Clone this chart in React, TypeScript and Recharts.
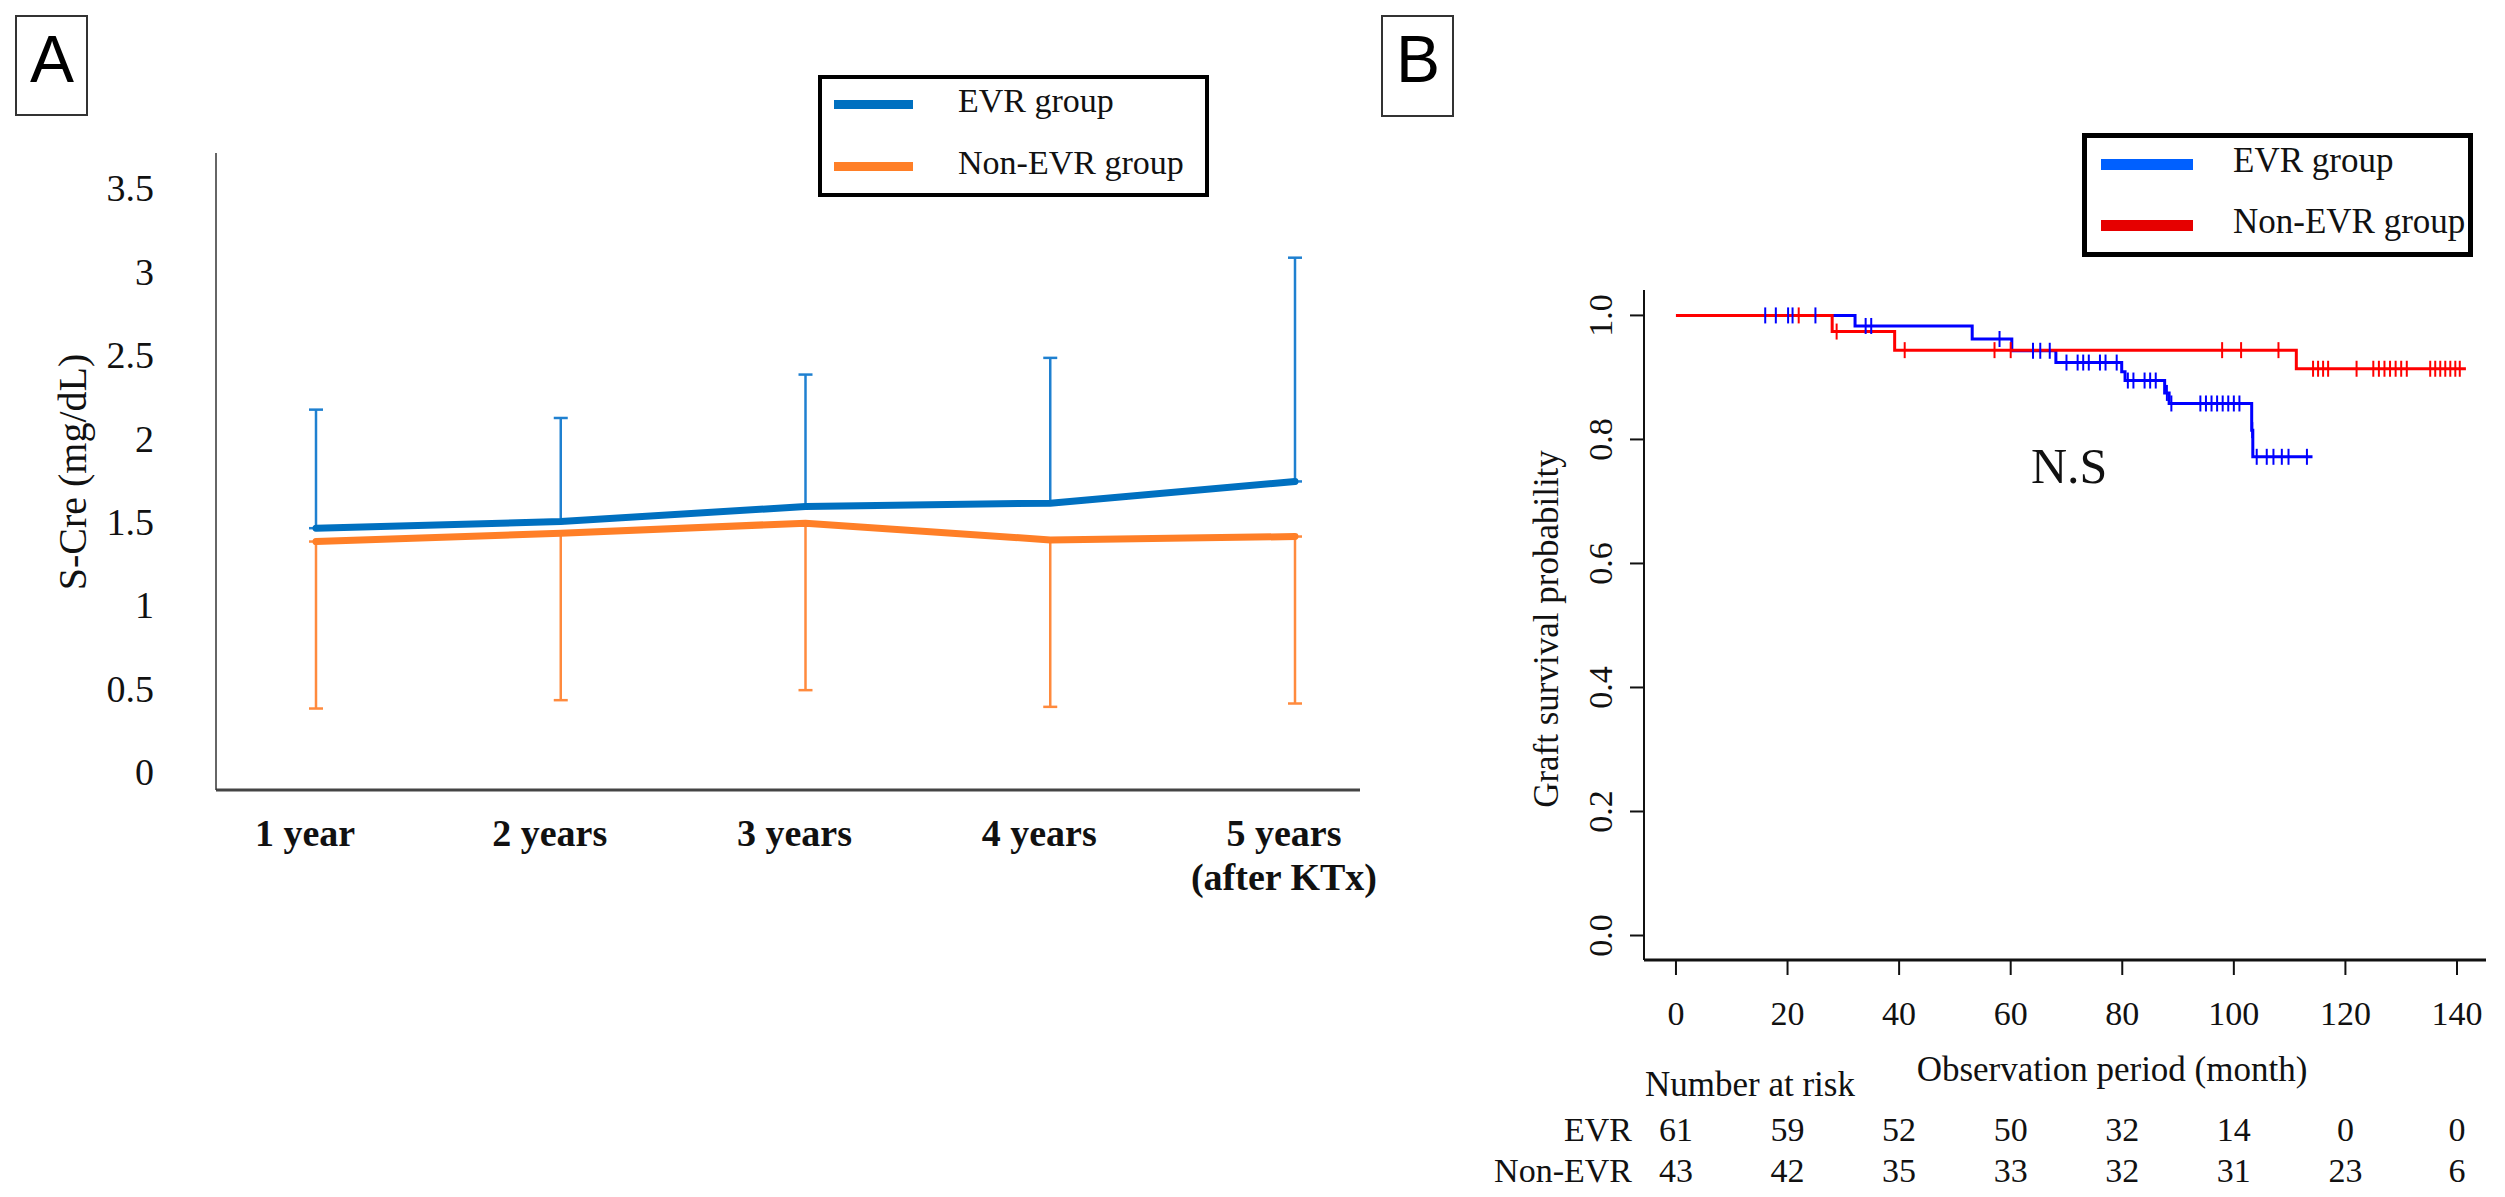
import React from 'react';
import { LineChart, Line, XAxis, YAxis, ErrorBar, Legend } from 'recharts';

const SERIF = '"Liberation Serif", "Times New Roman", serif';
const SANS = '"Liberation Sans", Arial, sans-serif';

// ---- panel A: S-Cre by year ----
const yearLabels = ['1 year', '2 years', '3 years', '4 years', '5 years|(after KTx)'];
const evrMean = [1.46, 1.5, 1.59, 1.61, 1.74];
const evrUpper = [2.17, 2.12, 2.38, 2.48, 3.08];
const nonEvrMean = [1.38, 1.43, 1.49, 1.39, 1.41];
const nonEvrLower = [0.38, 0.43, 0.49, 0.39, 0.41];
const creTicks = [0, 0.5, 1, 1.5, 2, 2.5, 3, 3.5];

// ---- panel B: graft survival (Kaplan-Meier) ----
const evrStepTimes = [0, 32.1, 53.1, 60.2, 68.1, 79.9, 80.5, 87.6, 88.4, 103.2, 103.4, 114.1];
const evrStepSurv = [1, 0.983, 0.962, 0.943, 0.924, 0.909, 0.895, 0.875, 0.858, 0.815, 0.772, 0.772];
const nonEvrStepTimes = [0, 28.0, 39.2, 111.2, 141.6];
const nonEvrStepSurv = [1, 0.974, 0.944, 0.914, 0.914];

const evrCensorTimes = [16, 17.9, 20.1, 20.9, 25, 34, 35, 58, 64, 65.3, 67, 70, 72, 73, 74, 76, 77, 79, 81, 82, 84, 85, 86, 88, 88.8, 94, 95, 96, 97, 98, 99, 100, 101, 103.3, 104.1, 105.9, 107.1, 108.6, 109.8, 113.1];
const evrCensorSurv = [1, 1, 1, 1, 1, 0.983, 0.983, 0.962, 0.943, 0.943, 0.943, 0.924, 0.924, 0.924, 0.924, 0.924, 0.924, 0.924, 0.895, 0.895, 0.895, 0.895, 0.895, 0.875, 0.858, 0.858, 0.858, 0.858, 0.858, 0.858, 0.858, 0.858, 0.858, 0.815, 0.772, 0.772, 0.772, 0.772, 0.772, 0.772];
const nonEvrCensorTimes = [22, 28.8, 41, 57.1, 60, 97.9, 101.3, 108, 114.2, 115.1, 116, 116.9, 122, 125, 126, 127, 128, 129, 130, 131, 135.2, 136.1, 137, 137.9, 138.8, 139.7, 140.5];
const nonEvrCensorSurv = [1, 0.974, 0.944, 0.944, 0.944, 0.944, 0.944, 0.944, 0.914, 0.914, 0.914, 0.914, 0.914, 0.914, 0.914, 0.914, 0.914, 0.914, 0.914, 0.914, 0.914, 0.914, 0.914, 0.914, 0.914, 0.914, 0.914];

const monthTicks = [0, 20, 40, 60, 80, 100, 120, 140];
const riskEvr = [61, 59, 52, 50, 32, 14, 0, 0];
const riskNonEvr = [43, 42, 35, 33, 32, 31, 23, 6];
const survTicks = [0, 0.2, 0.4, 0.6, 0.8, 1.0];

const creData = yearLabels.map((year, i) => ({
  year,
  evr: evrMean[i],
  evrErr: [0, +(evrUpper[i] - evrMean[i]).toFixed(3)],
  nonEvr: nonEvrMean[i],
  nonEvrErr: [+(nonEvrMean[i] - nonEvrLower[i]).toFixed(3), 0],
}));

const toPoints = (ts: number[], ss: number[]) => ts.map((t, i) => ({ t, s: ss[i] }));
const evrSteps = toPoints(evrStepTimes, evrStepSurv);
const nonEvrSteps = toPoints(nonEvrStepTimes, nonEvrStepSurv);
const evrCensor = toPoints(evrCensorTimes, evrCensorSurv);
const nonEvrCensor = toPoints(nonEvrCensorTimes, nonEvrCensorSurv);

const YearTick = ({ x, y, payload }: any) => {
  const lines = String(payload.value).split('|');
  return (
    <text x={x - 11} y={y} textAnchor="middle" fontFamily={SERIF} fontSize={38} fontWeight="bold" fill="#111">
      {lines.map((l, i) => (
        <tspan key={i} x={x - 11} dy={i === 0 ? 56 : 44}>{l}</tspan>
      ))}
    </text>
  );
};

const MonthTick = ({ x, y, payload }: any) => {
  const i = monthTicks.indexOf(payload.value);
  return (
    <g fontFamily={SERIF} fontSize={34} fill="#111">
      <text x={x} y={y + 50} textAnchor="middle">{payload.value}</text>
      <text x={x} y={y + 166} textAnchor="middle">{riskEvr[i]}</text>
      <text x={x} y={y + 207} textAnchor="middle">{riskNonEvr[i]}</text>
    </g>
  );
};

const SurvTick = ({ x, y, payload }: any) => (
  <text transform={`translate(${x - 18},${y}) rotate(-90)`} textAnchor="middle" fontFamily={SERIF} fontSize={34} fill="#111">
    {Number(payload.value).toFixed(1)}
  </text>
);

const censorDot = (color: string) => (props: any) => {
  const { cx, cy, index } = props;
  return <line key={`c-${color}-${index}`} x1={cx} x2={cx} y1={cy - 8} y2={cy + 8} stroke={color} strokeWidth={2} />;
};

const boxLegend = (cfg: any) => ({ payload }: any) => {
  const items = (payload || []).filter((p: any) => cfg.colors[p.value]);
  items.sort((a: any, b: any) => (a.value === 'EVR group' ? -1 : b.value === 'EVR group' ? 1 : 0));
  return (
    <div style={{ width: cfg.w, height: cfg.h, border: `${cfg.border}px solid #000`, boxSizing: 'border-box', position: 'relative', background: '#fff' }}>
      {items.map((p: any, i: number) => (
        <React.Fragment key={p.value}>
          <div style={{ position: 'absolute', left: cfg.lineX, width: cfg.lineW, top: cfg.rowY[i] - cfg.thick / 2, height: cfg.thick, background: cfg.colors[p.value] }} />
          <div style={{ position: 'absolute', left: cfg.textX, top: cfg.rowY[i] - cfg.font * 0.6, fontFamily: SERIF, fontSize: cfg.font, lineHeight: 1, color: '#111', whiteSpace: 'nowrap' }}>
            {p.value}
          </div>
        </React.Fragment>
      ))}
    </div>
  );
};

const legendA = boxLegend({ w: 391, h: 122, border: 4, lineX: 12, lineW: 79, thick: 9, rowY: [25, 87], textX: 136, font: 34, colors: { 'EVR group': '#0070C0', 'Non-EVR group': '#FF7F27' } });
const legendB = boxLegend({ w: 391, h: 124, border: 5, lineX: 14, lineW: 92, thick: 11, rowY: [26, 87], textX: 146, font: 35, colors: { 'EVR group': '#0060FF', 'Non-EVR group': '#E60000' } });

export default function App() {
  return (
    <div style={{ position: 'absolute', left: 0, top: 0, width: 2505, height: 1197, background: '#fff', overflow: 'hidden' }}>
      <div style={{ position: 'absolute', left: 0, top: 0 }}>
        <LineChart width={1450} height={950} data={creData} margin={{ top: 153, left: 156, right: 90, bottom: 100 }}>
          <XAxis dataKey="year" type="category" height={60} padding={{ left: 100, right: 65 }} tickSize={0} tickMargin={0} tickLine={false} axisLine={{ stroke: '#444', strokeWidth: 3 }} tick={<YearTick />} interval={0} />
          <YAxis type="number" width={60} domain={[-0.108, 3.707]} allowDataOverflow ticks={creTicks} interval={0} tickSize={0} tickMargin={62} tickLine={false} axisLine={{ stroke: '#333', strokeWidth: 1.5 }} tick={{ fontFamily: SERIF, fontSize: 38, fill: '#111' }} />
          <Legend layout="horizontal" verticalAlign="middle" align="center" content={legendA} wrapperStyle={{ left: 818, top: 75, right: 'auto', bottom: 'auto', width: 391, height: 122 }} />
          <Line dataKey="evr" name="EVR group" stroke="#0070C0" strokeWidth={7} strokeLinecap="round" dot={false} activeDot={false} isAnimationActive={false}>
            <ErrorBar dataKey="evrErr" direction="y" width={7} stroke="#1F80D0" strokeWidth={2.5} isAnimationActive={false} />
          </Line>
          <Line dataKey="nonEvr" name="Non-EVR group" stroke="#FF7F27" strokeWidth={7} strokeLinecap="round" dot={false} activeDot={false} isAnimationActive={false}>
            <ErrorBar dataKey="nonEvrErr" direction="y" width={7} stroke="#FF8A3D" strokeWidth={2.5} isAnimationActive={false} />
          </Line>
        </LineChart>
      </div>

      <div style={{ position: 'absolute', left: 1380, top: 0 }}>
        <LineChart width={1125} height={1197} margin={{ top: 290, left: 204, right: 19, bottom: 177 }}>
          <XAxis dataKey="t" type="number" height={60} domain={[-5.73, 145.2]} allowDataOverflow ticks={monthTicks} interval={0} tickSize={15} tickMargin={0} tickLine={{ stroke: '#111', strokeWidth: 2 }} axisLine={{ stroke: '#111', strokeWidth: 3 }} tick={<MonthTick />} />
          <YAxis dataKey="s" type="number" width={60} domain={[-0.0395, 1.041]} allowDataOverflow ticks={survTicks} interval={0} tickSize={14} tickMargin={0} tickLine={{ stroke: '#111', strokeWidth: 2 }} axisLine={{ stroke: '#111', strokeWidth: 2 }} tick={<SurvTick />} />
          <Legend layout="horizontal" verticalAlign="middle" align="center" content={legendB} wrapperStyle={{ left: 702, top: 133, right: 'auto', bottom: 'auto', width: 391, height: 124 }} />
          <Line data={evrSteps} dataKey="s" name="EVR group" type="stepAfter" stroke="#0000FF" strokeWidth={3} dot={false} activeDot={false} isAnimationActive={false} />
          <Line data={nonEvrSteps} dataKey="s" name="Non-EVR group" type="stepAfter" stroke="#FF0000" strokeWidth={3} dot={false} activeDot={false} isAnimationActive={false} />
          <Line data={evrCensor} dataKey="s" name="EVR censored" legendType="none" stroke="none" dot={censorDot('#0000FF')} activeDot={false} isAnimationActive={false} />
          <Line data={nonEvrCensor} dataKey="s" name="Non-EVR censored" legendType="none" stroke="none" dot={censorDot('#FF0000')} activeDot={false} isAnimationActive={false} />
        </LineChart>
      </div>

      <svg width={2505} height={1197} style={{ position: 'absolute', left: 0, top: 0, pointerEvents: 'none' }}>
        <rect x={16} y={16} width={71} height={99} fill="none" stroke="#333" strokeWidth={2} />
        <text x={52} y={82} textAnchor="middle" fontFamily={SANS} fontSize={66} fill="#000">A</text>
        <rect x={1382} y={16} width={71} height={100} fill="none" stroke="#333" strokeWidth={2} />
        <text x={1418} y={82} textAnchor="middle" fontFamily={SANS} fontSize={66} fill="#000">B</text>

        <text transform="translate(86,472) rotate(-90)" textAnchor="middle" fontFamily={SERIF} fontSize={40} fill="#111">S-Cre (mg/dL)</text>

        <text transform="translate(1558,629) rotate(-90)" textAnchor="middle" fontFamily={SERIF} fontSize={35} fill="#111">Graft survival probability</text>
        <text x={2112} y={1081} textAnchor="middle" fontFamily={SERIF} fontSize={35} fill="#111">Observation period (month)</text>
        <text x={1645} y={1096} fontFamily={SERIF} fontSize={35} fill="#111">Number at risk</text>
        <text x={1632} y={1141} textAnchor="end" fontFamily={SERIF} fontSize={34} fill="#111">EVR</text>
        <text x={1632} y={1182} textAnchor="end" fontFamily={SERIF} fontSize={34} fill="#111">Non-EVR</text>
        <text x={2031} y={483} fontFamily={SERIF} fontSize={50} fill="#111">N.S</text>
      </svg>
    </div>
  );
}
